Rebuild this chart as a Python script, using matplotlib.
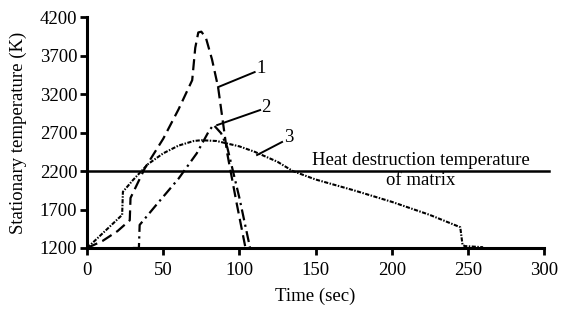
import matplotlib
matplotlib.use("Agg")
import matplotlib.pyplot as plt

plt.rcParams['font.family'] = ['Liberation Serif', 'DejaVu Serif']

# curve 1 (dashed)
t1 = [0, 10, 20, 28, 28.5, 38, 50, 60, 69, 71, 73, 75, 78, 82, 86, 92, 98, 104]
T1 = [1200, 1290, 1420, 1560, 1850, 2240, 2620, 3000, 3380, 3800, 4000, 4010, 3930, 3650, 3290, 2430, 1800, 1200]
# curve 2 (dash-dot)
t2 = [30, 34, 34.5, 45, 60, 72, 80, 83, 88, 92, 100, 107]
T2 = [1200, 1200, 1500, 1750, 2100, 2430, 2720, 2800, 2690, 2510, 1850, 1200]
# curve 3 (dotted)
t3 = [0, 23, 23.5, 30, 40, 50, 60, 70, 75, 85, 100, 110, 125, 135, 150, 175, 200, 225, 245, 246.5, 248, 260]
T3 = [1200, 1630, 1930, 2080, 2290, 2430, 2530, 2590, 2600, 2590, 2520, 2450, 2320, 2200, 2090, 1950, 1800, 1630, 1470, 1240, 1225, 1210]

destruction_T = 2200
xticks = [0, 50, 100, 150, 200, 250, 300]
yticks = [1200, 1700, 2200, 2700, 3200, 3700, 4200]

fs = 13.5

fig = plt.figure(figsize=(5.62, 3.10), dpi=100)
ax = fig.add_axes([0.155, 0.2, 0.813, 0.745])

ax.plot(t1, T1, color='black', lw=1.6, dashes=(5, 2.5))
ax.plot(t2, T2, color='black', lw=1.6, dashes=(5, 2, 1, 2))
ax.plot(t3, T3, color='black', lw=1.5, dashes=(2, 0.7, 0.7, 0.7))
ax.plot([0, 303], [destruction_T, destruction_T], color='black', lw=1.8, clip_on=False)

# leaders and labels
ax.plot([86, 110], [3290, 3485], color='black', lw=1.4)
ax.text(111, 3530, '1', fontsize=fs, va='center', ha='left')
ax.plot([85.4, 113.6], [2797, 2992], color='black', lw=1.4)
ax.text(114.5, 3030, '2', fontsize=fs, va='center', ha='left')
ax.plot([111.6, 128], [2408, 2577], color='black', lw=1.4)
ax.text(129, 2630, '3', fontsize=fs, va='center', ha='left')

ax.text(219, 2343, 'Heat destruction temperature', fontsize=fs, ha='center', va='center')
ax.text(219, 2083, 'of matrix', fontsize=fs, ha='center', va='center')

ax.set_xlim(0, 300)
ax.set_ylim(1200, 4200)
ax.set_xticks(xticks)
ax.set_yticks(yticks)
ax.tick_params(labelsize=fs, width=2, length=5, direction='out')
ax.tick_params(axis='x', pad=5)
ax.tick_params(axis='y', pad=2)
for s in ['top', 'right']:
    ax.spines[s].set_visible(False)
for s in ['left', 'bottom']:
    ax.spines[s].set_linewidth(2.2)
ax.set_xlabel('Time (sec)', fontsize=fs, labelpad=6)
ax.set_ylabel('Stationary temperature (K)', fontsize=fs, labelpad=9)

fig.savefig('out.png', dpi=100)
